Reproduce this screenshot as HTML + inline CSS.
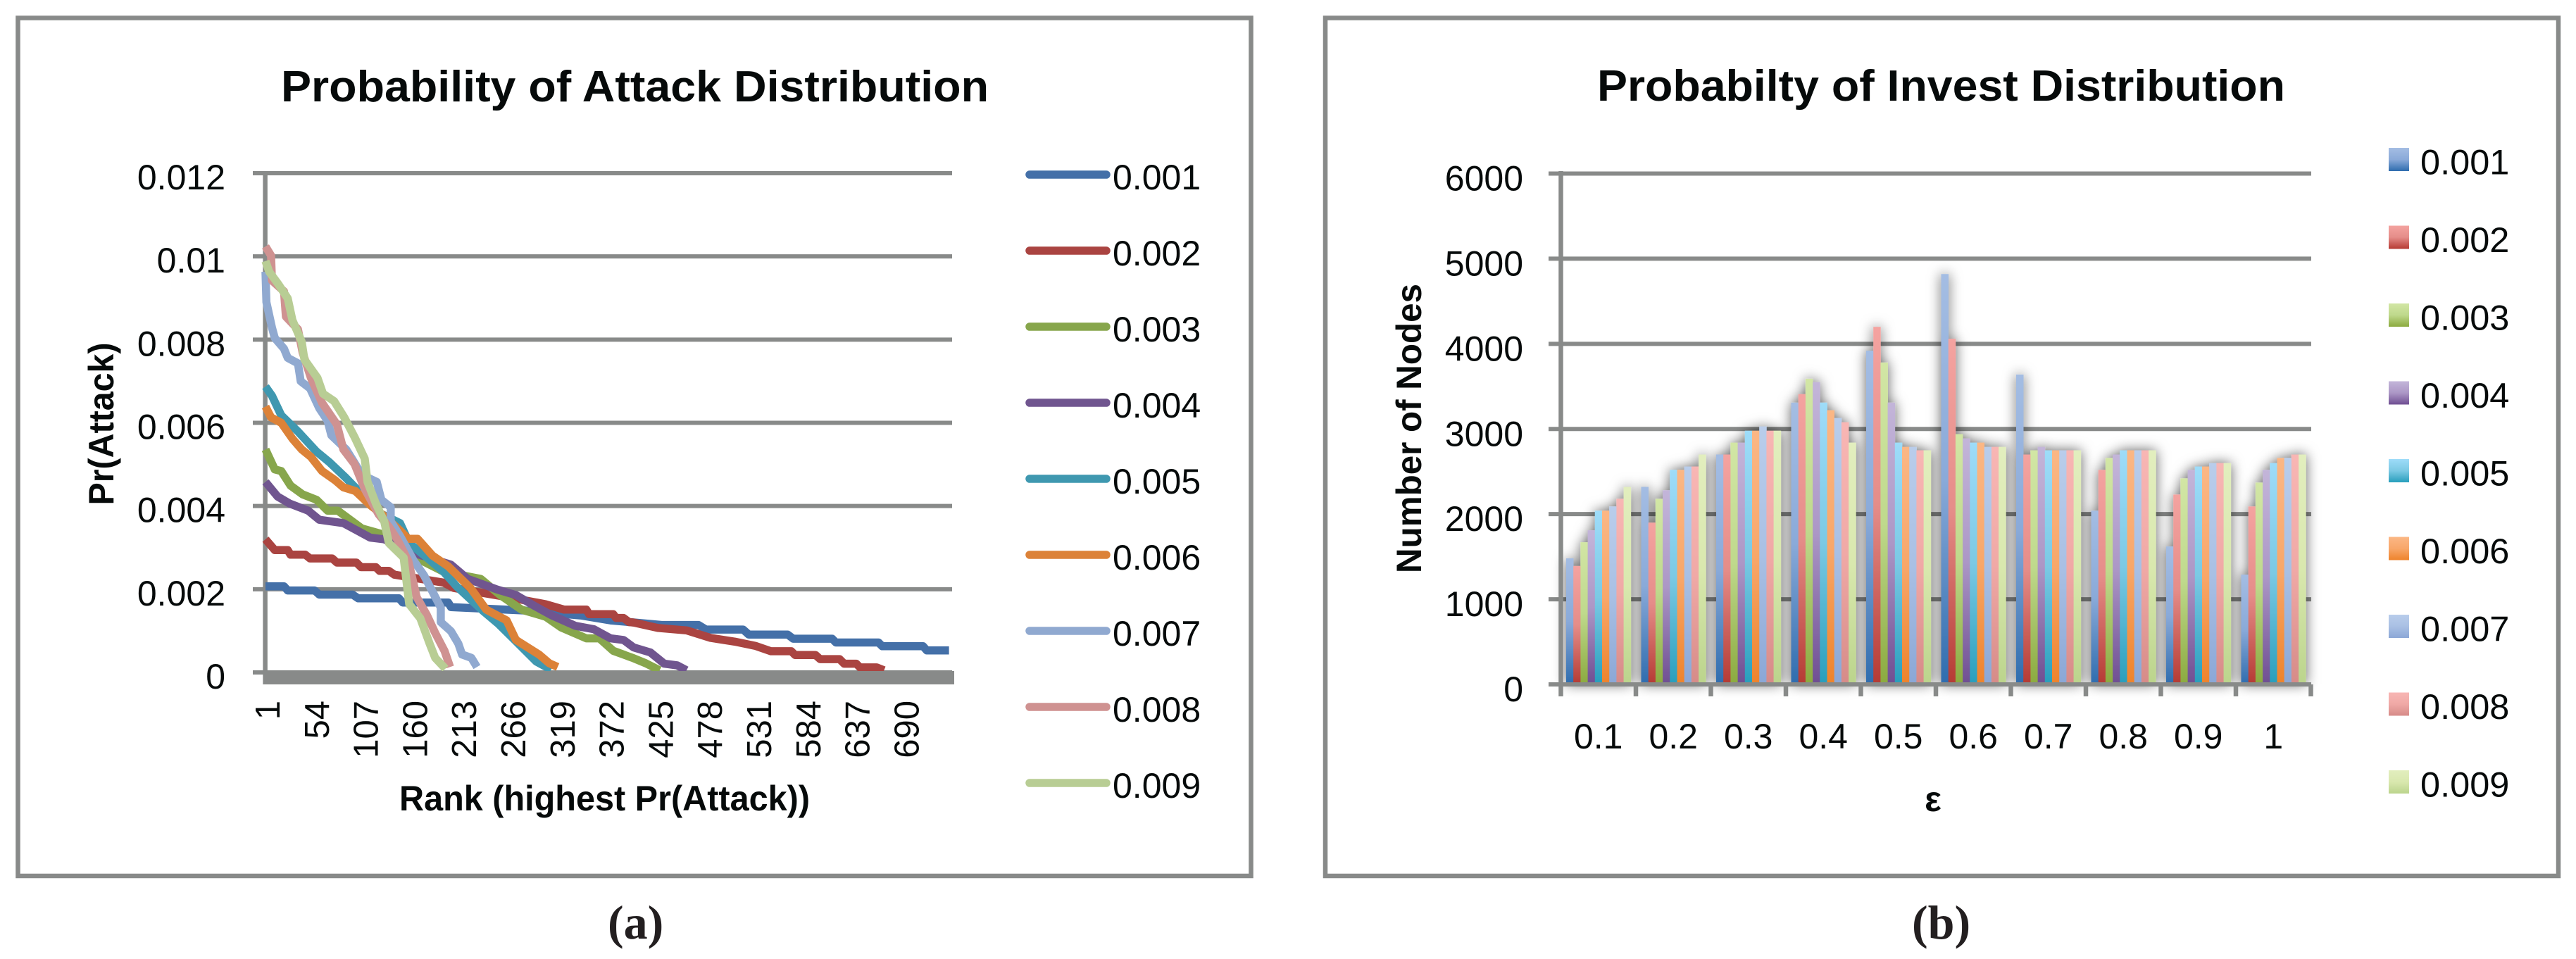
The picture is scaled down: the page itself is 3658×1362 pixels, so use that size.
<!DOCTYPE html>
<html lang="en">
<head>
<meta charset="utf-8">
<title>Probability of Attack and Invest Distribution</title>
<style>
html,body{margin:0;padding:0;background:#fff;}
svg{display:block;}
text{font-family:"Liberation Sans",sans-serif;fill:#060a0a;}
.bold{font-weight:bold;}
.cap{font-family:"Liberation Serif",serif;font-weight:bold;fill:#231f20;font-size:68px;}
</style>
</head>
<body>
<svg id="fig" xmlns="http://www.w3.org/2000/svg" width="3658" height="1362" viewBox="0 0 3658 1362">
  <defs id="defs">
    <filter id="barShadow" filterUnits="userSpaceOnUse" x="2150" y="150" width="1220" height="880">
      <feDropShadow dx="0" dy="0" stdDeviation="9" flood-color="#000" flood-opacity="0.62"/>
    </filter>
  </defs>
  <rect width="3658" height="1362" fill="#fff"/>

  <g id="chartA">
    <rect x="25.5" y="25.5" width="1751" height="1218.5" fill="#fff" stroke="#888a89" stroke-width="6.5"/>
    <text class="bold" x="399" y="144" font-size="62" textLength="1005" lengthAdjust="spacingAndGlyphs">Probability of Attack Distribution</text>
    <text class="bold" font-size="50" text-anchor="middle" textLength="231" lengthAdjust="spacingAndGlyphs" transform="translate(161,602) rotate(-90)">Pr(Attack)</text>
    <text class="bold" x="567" y="1151" font-size="50" textLength="583" lengthAdjust="spacingAndGlyphs">Rank (highest Pr(Attack))</text>
  </g>
  <text class="cap" x="863" y="1333">(a)</text>

  <g id="chartB">
    <rect x="1882" y="25.5" width="1751" height="1218.5" fill="#fff" stroke="#888a89" stroke-width="6.5"/>
    <text class="bold" x="2268" y="143" font-size="62" textLength="977" lengthAdjust="spacingAndGlyphs">Probabilty of Invest Distribution</text>
    <text class="bold" font-size="50" text-anchor="middle" textLength="411" lengthAdjust="spacingAndGlyphs" transform="translate(2018,608.5) rotate(-90)">Number of Nodes</text>
    <text class="bold" x="2745" y="1152" font-size="50" text-anchor="middle">ε</text>
  </g>
  <text class="cap" x="2715" y="1333">(b)</text>
</svg>
<script>
// ---------- shared ----------
const seriesNames = ['0.001','0.002','0.003','0.004','0.005','0.006','0.007','0.008','0.009'];

// ---------- chart (a) data ----------
const lineColors = ['#4470a8','#aa4441','#87a64c','#70558f','#3f98b0','#dc8238','#90a9d0','#cf9291','#b8cd94'];
const attackYTicks = [0,0.002,0.004,0.006,0.008,0.01,0.012];
const attackYLabels = ['0','0.002','0.004','0.006','0.008','0.01','0.012'];
const attackXLabels = [1,54,107,160,213,266,319,372,425,478,531,584,637,690];

const ranks001 = [1,21,25,54,59,95,101,145,149,198,201,280,341,373,424,428,468,476,516,522,564,570,612,616,662,666,710,714,738];
const values001 = [0.00207,0.00207,0.00197,0.00197,0.00187,0.00187,0.00178,0.00178,0.00168,0.00168,0.00157,0.00149,0.00137,0.00125,0.00115,0.00114,0.00114,0.00103,0.00103,0.00091,0.00091,0.00081,0.00081,0.00072,0.00072,0.00063,0.00063,0.00053,0.00053];

const ranks002 = [1,11,25,28,44,49,73,78,99,104,120,124,134,140,193,204,262,303,323,347,350,376,379,387,393,398,424,455,481,507,529,546,568,572,594,599,620,625,638,642,660,668];
const values002 = [0.0032,0.00294,0.00294,0.00283,0.00283,0.00274,0.00274,0.00264,0.00264,0.00253,0.00253,0.00244,0.00244,0.00235,0.00216,0.00203,0.00181,0.00164,0.00151,0.00151,0.0014,0.0014,0.00131,0.00131,0.00121,0.0012,0.00107,0.00101,0.00083,0.00074,0.00064,0.00051,0.00051,0.00042,0.00042,0.00032,0.00032,0.00021,0.00021,0.00012,0.00012,0.00005];

const ranks003 = [1,11,18,28,41,56,68,79,105,126,140,163,193,233,254,277,303,320,347,361,376,398,411,426];
const values003 = [0.00536,0.00488,0.00484,0.00449,0.00428,0.00415,0.00389,0.00389,0.00346,0.00333,0.00298,0.00276,0.00242,0.00225,0.00186,0.00151,0.00134,0.00108,0.00082,0.00082,0.00052,0.00034,0.00022,0.00005];

const ranks004 = [1,14,27,47,59,85,114,129,158,201,219,251,271,291,309,335,355,373,387,398,416,431,445,455];
const values004 = [0.00458,0.00423,0.00406,0.00389,0.00367,0.00359,0.00324,0.0032,0.00289,0.00259,0.00225,0.00199,0.00186,0.0016,0.00138,0.00112,0.00104,0.00082,0.00078,0.0006,0.00048,0.00021,0.00017,0.00005];

const ranks005 = [1,8,18,36,56,70,88,105,123,146,156,175,193,207,236,252,268,293,309];
const values005 = [0.00687,0.00665,0.00618,0.00579,0.00531,0.00505,0.00467,0.00428,0.00384,0.00359,0.00311,0.00276,0.00242,0.00207,0.00147,0.00117,0.00082,0.00026,0.00007];

const ranks006 = [1,7,18,30,40,50,62,76,85,98,114,129,146,155,165,181,198,222,239,261,271,296,307,316];
const values006 = [0.00639,0.00613,0.006,0.00562,0.00536,0.00518,0.00484,0.00462,0.00445,0.00436,0.00402,0.00376,0.00341,0.00321,0.00321,0.00281,0.00255,0.00203,0.00151,0.00125,0.00078,0.00043,0.00022,0.00013];

const ranks007 = [1,2,8,11,21,25,36,39,49,59,68,72,88,105,121,126,136,136,146,161,172,190,190,201,209,213,223,229];
const values007 = [0.00963,0.0089,0.00829,0.00804,0.00778,0.00756,0.00743,0.007,0.00683,0.00635,0.00605,0.0057,0.00536,0.00475,0.00458,0.00415,0.00397,0.00363,0.00328,0.00268,0.00233,0.00156,0.00121,0.00099,0.00069,0.00043,0.00035,0.00013];

const ranks008 = [1,7,8,21,23,36,41,50,62,78,85,97,108,123,134,143,155,164,175,184,194,200];
const values008 = [0.01024,0.01002,0.00942,0.00916,0.00855,0.00825,0.00769,0.00708,0.00648,0.00596,0.00536,0.00501,0.00441,0.0038,0.0035,0.0032,0.00268,0.00181,0.00138,0.00095,0.00052,0.00013];

const ranks009 = [1,5,15,25,30,40,43,57,63,75,86,97,108,111,120,129,134,150,156,168,178,184,195];
const values009 = [0.00989,0.00963,0.00933,0.00899,0.00847,0.00795,0.00752,0.00708,0.0067,0.00652,0.00613,0.00566,0.00514,0.00458,0.00406,0.00363,0.00311,0.00276,0.00164,0.0013,0.00069,0.00035,0.00009];

// ---------- chart (b) data ----------
const investCategories = ['0.1','0.2','0.3','0.4','0.5','0.6','0.7','0.8','0.9','1'];
const investYTicks = [0,1000,2000,3000,4000,5000,6000];
const gradTop = ['#a4bde3','#f4a3a0','#d2e6a5','#c3b5d9','#9edcf9','#fbb785','#b9cdeb','#f8b6b4','#e2eebe'];
const gradMid = ['#8aaad9','#e58d89','#bfd98c','#ac97c6','#7bc9e4','#f8a76a','#a9c0e4','#f0a9a6','#d9e8ae'];
const gradBottom = ['#2e6cae','#b53a33','#8baa3f','#6f4e92','#289ebc','#ee832b','#8ba7d6','#d68b88','#bbd48c'];

const invest001 = [1480,2320,2700,3310,3920,4820,3640,2040,1620,1290];
const invest002 = [1390,1900,2700,3410,4200,4060,2700,2520,2230,2090];
const invest003 = [1670,2180,2840,3590,3780,2940,2750,2660,2420,2370];
const invest004 = [1810,2280,2840,3550,3310,2890,2790,2700,2520,2520];
const invest005 = [2040,2520,2980,3310,2840,2840,2750,2750,2560,2600];
const invest006 = [2040,2520,2980,3220,2790,2840,2750,2750,2560,2660];
const invest007 = [2090,2560,3030,3130,2790,2790,2750,2750,2600,2660];
const invest008 = [2180,2560,2980,3080,2750,2790,2750,2750,2600,2700];
const invest009 = [2320,2700,2980,2840,2750,2790,2750,2750,2600,2700];

const GRID = '#888a89';
const NS = 'http://www.w3.org/2000/svg';
function mk(tag, attrs, parent, txt) {
  const e = document.createElementNS(NS, tag);
  for (const k in attrs) e.setAttribute(k, attrs[k]);
  if (txt !== undefined) e.textContent = txt;
  parent.appendChild(e);
  return e;
}

// ---------- chart (a) render ----------
const chartA = document.getElementById('chartA');
const attackRanks = [ranks001,ranks002,ranks003,ranks004,ranks005,ranks006,ranks007,ranks008,ranks009];
const attackValues = [values001,values002,values003,values004,values005,values006,values007,values008,values009];
const ax = r => 377 + (r - 1) * 1.317;
const ay = v => 955 - (v / 0.012) * 709;

attackYTicks.forEach((t, i) => {
  const g = mk('line', {x1:359, x2:1352, y1:ay(t), y2:ay(t), stroke:GRID, 'stroke-width':6}, chartA);
  
  
  const l = mk('text', {x:320, y:ay(t)+23, 'font-size':50, 'text-anchor':'end'}, chartA, attackYLabels[i]);
  
  
});
const axA = mk('line', {x1:376.6, x2:376.6, y1:243, y2:972, stroke:GRID, 'stroke-width':6.5}, chartA);



attackValues.forEach((vals, s) => {
  const pts = vals.map((v, i) => ax(attackRanks[s][i]).toFixed(1) + ',' + ay(v).toFixed(1)).join(' ');
  const p = mk('polyline', {points:pts, fill:'none', stroke:lineColors[s], 'stroke-width':11.5, 'stroke-linejoin':'round'}, chartA);
  
  
});
const band = mk('rect', {x:374, y:953, width:981, height:19, fill:GRID}, chartA);



attackXLabels.forEach(r => {
  const x = ax(r) + 20;
  const l = mk('text', {'font-size':49, 'text-anchor':'end', transform:'translate(' + x + ',995) rotate(-90)'}, chartA, String(r));
  
  
});

seriesNames.forEach((n, s) => {
  const cy = 248 + 108 * s;
  const sw = mk('line', {x1:1462, x2:1571, y1:cy, y2:cy, stroke:lineColors[s], 'stroke-width':11.5, 'stroke-linecap':'round'}, chartA);
  
  
  const t = mk('text', {x:1580, y:cy+21, 'font-size':50}, chartA, n);
  
  
});

// ---------- chart (b) render ----------
const chartB = document.getElementById('chartB');
const defs = document.getElementById('defs');
const investSeries = [invest001,invest002,invest003,invest004,invest005,invest006,invest007,invest008,invest009];
const by = v => 972 - (v / 6000) * 725.5;
const CAT_W = 106.5, X0 = 2216.5, BAR_W = 10.2, GROUP_PAD = 7.5;
const bx = (c, s) => X0 + c * CAT_W + GROUP_PAD + s * BAR_W;

gradTop.forEach((c, s) => {
  const g = mk('linearGradient', {id:'grad' + s, x1:0, y1:0, x2:0, y2:1}, defs);
  mk('stop', {offset:'0', 'stop-color':c}, g);
  mk('stop', {offset:'0.5', 'stop-color':gradMid[s]}, g);
  mk('stop', {offset:'1', 'stop-color':gradBottom[s]}, g);
});

investYTicks.forEach(t => {
  const g = mk('line', {x1:2199, x2:3282, y1:by(t), y2:by(t), stroke:GRID, 'stroke-width':6}, chartB);
  
  
  const l = mk('text', {x:2163, y:by(t)+24, 'font-size':50, 'text-anchor':'end'}, chartB, String(t));
  
  
});

const barsG = mk('g', {filter:'url(#barShadow)'}, chartB);


investSeries.forEach((vals, s) => {
  vals.forEach((v, c) => {
    const r = mk('rect', {x:bx(c, s).toFixed(1), y:by(v).toFixed(1), width:BAR_W + 0.3, height:(by(0) - by(v)).toFixed(1), fill:'url(#grad' + s + ')'}, barsG);
    
    
  });
});

const axB = mk('line', {x1:2216.5, x2:2216.5, y1:243, y2:989, stroke:GRID, 'stroke-width':6.5}, chartB);


const axBx = mk('line', {x1:2199, x2:3282, y1:by(0), y2:by(0), stroke:GRID, 'stroke-width':6}, chartB);



investCategories.forEach((c, i) => {
  const tx = X0 + (i + 1) * CAT_W;
  const tk = mk('line', {x1:tx, x2:tx, y1:972, y2:989, stroke:GRID, 'stroke-width':6.5}, chartB);
  
  
  const l = mk('text', {x:X0 + (i + 0.5) * CAT_W, y:1063, 'font-size':50, 'text-anchor':'middle'}, chartB, c);
  
  
});

seriesNames.forEach((n, s) => {
  const cy = 226.5 + 110.5 * s;
  const sw = mk('rect', {x:3392, y:cy - 16.5, width:29, height:33, fill:'url(#grad' + s + ')'}, chartB);
  
  
  const t = mk('text', {x:3437, y:cy + 21, 'font-size':50.5}, chartB, n);
  
  
});
</script>
</body>
</html>
